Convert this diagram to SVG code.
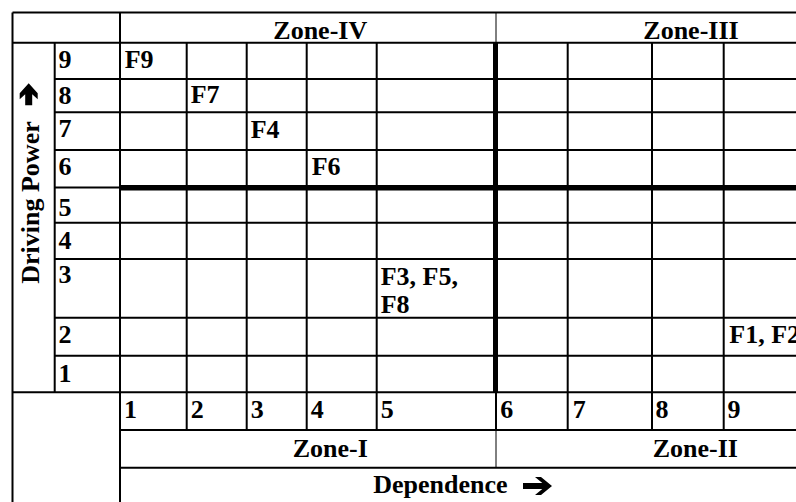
<svg xmlns="http://www.w3.org/2000/svg" width="796" height="502" viewBox="0 0 796 502">
<style>
text{font-family:"Liberation Serif","Times New Roman",serif;font-weight:bold;font-size:26px;fill:#000}
.t{stroke:#000;stroke-width:2;fill:none}
.h{stroke:#000;stroke-width:1;fill:none}
.k{stroke:#000;stroke-width:5.5;fill:none}
</style>
<defs>
<path id="arr" d="M-29,-3 L-9.7,-3 L-17,-9 L-11,-9 L0,0 L-11,9 L-17,9 L-9.7,3 L-29,3 Z" fill="#000"/>
<path id="arrup" d="M-3.5,0 L-3.5,-11 L-9,-6 L-9,-12 L0,-22 L9,-12 L9,-6 L3.5,-11 L3.5,0 Z" fill="#000"/>
</defs>
<rect width="796" height="502" fill="#fff"/>
<g id="grid">
<path class="t" d="M12.5,12.5H796 M12.5,42.7H796 M12.5,392.3H796 M120,430H796 M120,467.7H796"/>
<path class="t" d="M54.7,79H796 M54.7,112.3H796 M54.7,150H796 M54.7,187.5H120 M54.7,222.7H796 M54.7,259H796 M54.7,317.7H796 M54.7,355.7H796"/>
<path class="t" d="M12.5,12.5V502 M120,12.5V502 M54.7,42.7V392.3"/>
<path class="t" d="M186.7,42.7V430 M246.7,42.7V430 M306.7,42.7V430 M376.7,42.7V430 M567.7,42.7V430 M652,42.7V430 M723.7,42.7V430 M496,392.3V430"/>
<path class="h" d="M496,12.5V42.7 M496,430V467.7"/>
<path class="k" d="M120,187.7H796"/>
<path class="k" style="stroke-width:5" d="M495.5,42.7V392.3"/>
</g>
<g id="zones">
<text x="273.3" y="39.3">Zone-IV</text>
<text x="643.3" y="39.3">Zone-III</text>
<text x="292.7" y="457">Zone-I</text>
<text x="652.7" y="457">Zone-II</text>
</g>
<g id="driving-power">
<text transform="translate(39,202.5) rotate(-90)" text-anchor="middle">Driving Power</text>
<use href="#arrup" transform="translate(28.7,105.3)"/>
</g>
<g id="dependence">
<text x="373.3" y="493">Dependence</text>
<use href="#arr" transform="translate(552,486)"/>
</g>
<g id="row-labels">
<text x="58.5" y="68">9</text>
<text x="58.5" y="104">8</text>
<text x="58.5" y="137">7</text>
<text x="58.5" y="175">6</text>
<text x="58.5" y="216">5</text>
<text x="58.5" y="249">4</text>
<text x="58.5" y="283">3</text>
<text x="58.5" y="343">2</text>
<text x="58.5" y="382">1</text>
</g>
<g id="col-labels">
<text x="124" y="418">1</text>
<text x="190.7" y="418">2</text>
<text x="250.7" y="418">3</text>
<text x="310.7" y="418">4</text>
<text x="380.7" y="418">5</text>
<text x="500.3" y="418">6</text>
<text x="572.7" y="418">7</text>
<text x="655.5" y="418">8</text>
<text x="727.5" y="418">9</text>
</g>
<g id="factors">
<text x="124.7" y="68.3">F9</text>
<text x="190.7" y="103.3">F7</text>
<text x="250.7" y="137.7">F4</text>
<text x="311.7" y="175">F6</text>
<text x="380.7" y="285">F3, F5,</text>
<text x="380.7" y="313">F8</text>
<text x="729.3" y="343.3">F1, F2</text>
</g>
</svg>
